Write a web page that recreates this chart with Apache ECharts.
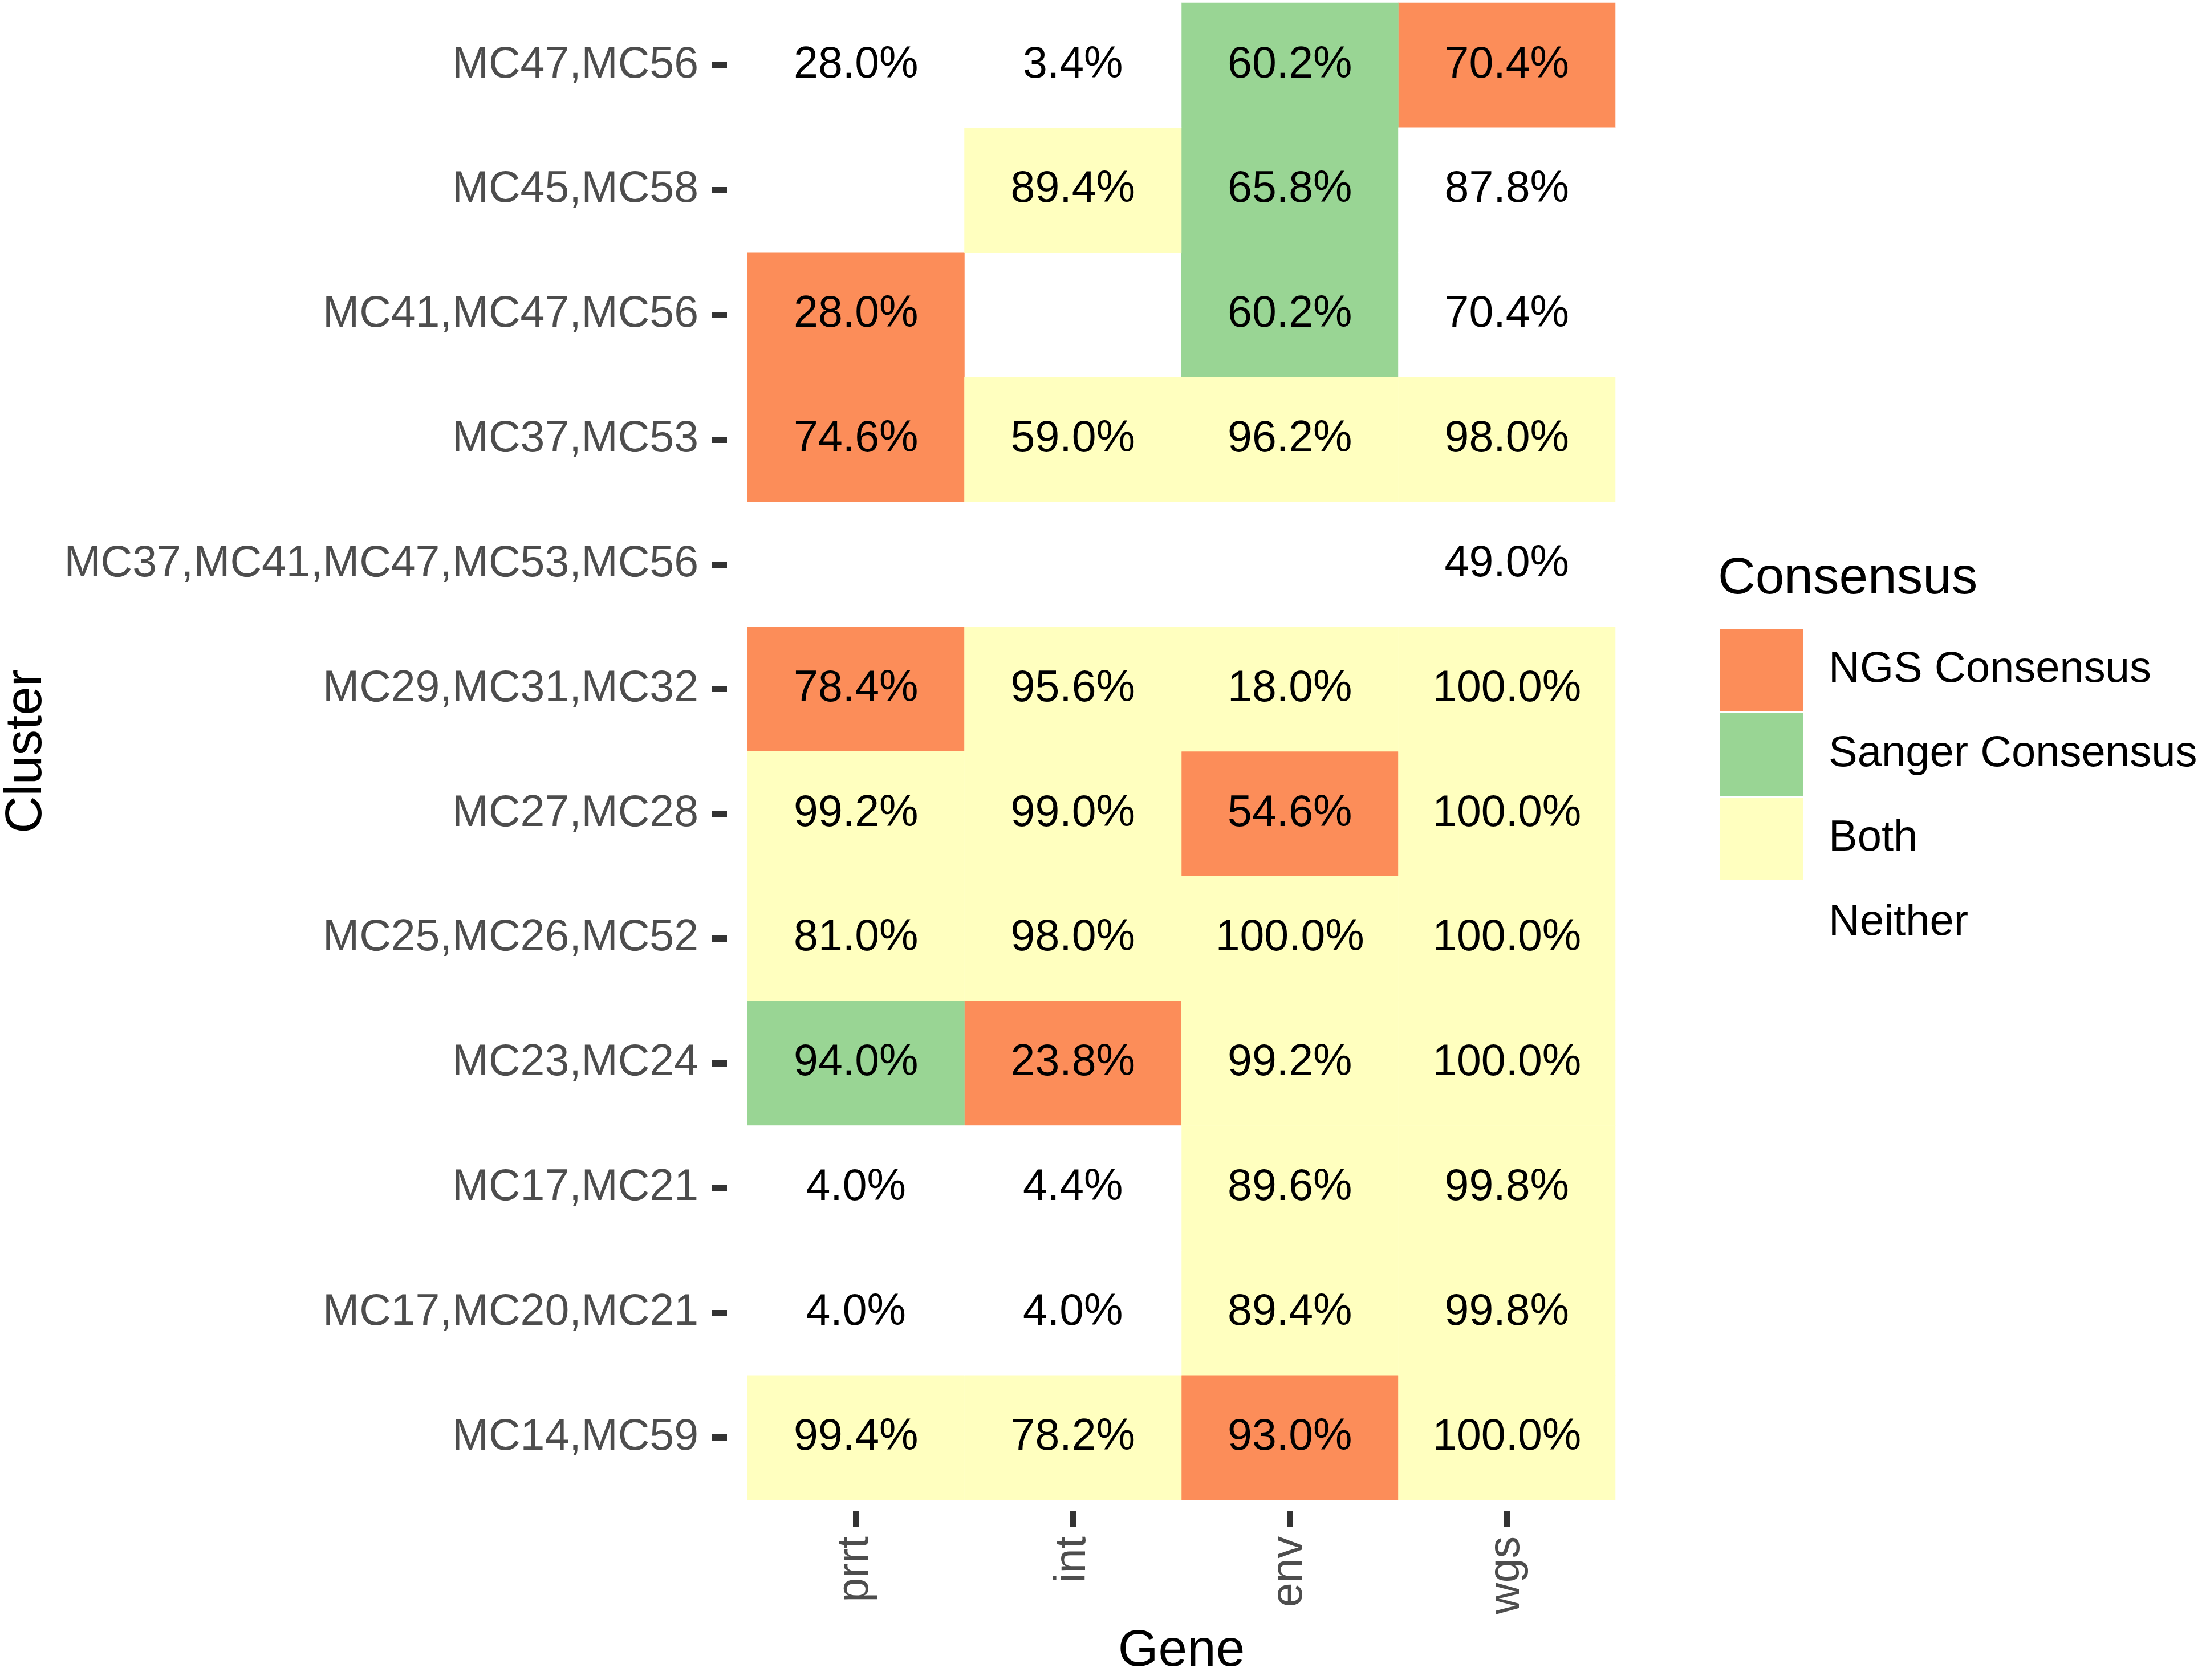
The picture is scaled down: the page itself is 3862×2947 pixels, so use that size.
<!DOCTYPE html>
<html>
<head>
<meta charset="utf-8">
<script src="https://cdn.jsdelivr.net/npm/echarts@6/dist/echarts.min.js"></script>
<style>html,body{margin:0;padding:0;background:#fff}#c{width:3862px;height:2947px}</style>
</head>
<body>
<div id="c"></div>
<script>
const genes = ['prrt', 'int', 'env', 'wgs'];
const clusters = [
  'MC47,MC56', 'MC45,MC58', 'MC41,MC47,MC56', 'MC37,MC53',
  'MC37,MC41,MC47,MC53,MC56', 'MC29,MC31,MC32', 'MC27,MC28', 'MC25,MC26,MC52',
  'MC23,MC24', 'MC17,MC21', 'MC17,MC20,MC21', 'MC14,MC59'
];
const values = [
  [28.0, 3.4, 60.2, 70.4],
  [null, 89.4, 65.8, 87.8],
  [28.0, null, 60.2, 70.4],
  [74.6, 59.0, 96.2, 98.0],
  [null, null, null, 49.0],
  [78.4, 95.6, 18.0, 100.0],
  [99.2, 99.0, 54.6, 100.0],
  [81.0, 98.0, 100.0, 100.0],
  [94.0, 23.8, 99.2, 100.0],
  [4.0, 4.4, 89.6, 99.8],
  [4.0, 4.0, 89.4, 99.8],
  [99.4, 78.2, 93.0, 100.0]
];
const consensus = [
  ['Neither', 'Neither', 'Sanger Consensus', 'NGS Consensus'],
  [null, 'Both', 'Sanger Consensus', 'Neither'],
  ['NGS Consensus', null, 'Sanger Consensus', 'Neither'],
  ['NGS Consensus', 'Both', 'Both', 'Both'],
  [null, null, null, 'Neither'],
  ['NGS Consensus', 'Both', 'Both', 'Both'],
  ['Both', 'Both', 'NGS Consensus', 'Both'],
  ['Both', 'Both', 'Both', 'Both'],
  ['Sanger Consensus', 'NGS Consensus', 'Both', 'Both'],
  ['Neither', 'Neither', 'Both', 'Both'],
  ['Neither', 'Neither', 'Both', 'Both'],
  ['Both', 'Both', 'NGS Consensus', 'Both']
];
const consensusLevels = ['NGS Consensus', 'Sanger Consensus', 'Both', 'Neither'];
const consensusColors = ['#FC8D59', '#99D594', '#FFFFBF', '#FFFFFF'];

const FONT = '"Liberation Sans", Arial, Helvetica, sans-serif';

const series = consensusLevels.map((lvl, k) => {
  const data = [];
  clusters.forEach((c, i) => {
    genes.forEach((g, j) => {
      if (values[i][j] !== null && consensus[i][j] === lvl) data.push([j, i, values[i][j]]);
    });
  });
  return {
    name: lvl,
    type: 'heatmap',
    data: data,
    itemStyle: { color: consensusColors[k], borderWidth: 0 },
    label: {
      show: true,
      color: '#000',
      fontSize: 77,
      fontFamily: FONT,
      formatter: p => p.value[2].toFixed(1) + '%'
    },
    emphasis: { disabled: true }
  };
});

const chart = echarts.init(document.getElementById('c'));
chart.setOption({
  animation: false,
  backgroundColor: '#fff',
  title: {
    text: 'Consensus',
    left: 3008,
    top: 965,
    textStyle: { fontSize: 91, fontWeight: 'normal', color: '#000', fontFamily: FONT }
  },
  legend: {
    orient: 'vertical',
    left: 3012,
    top: 1098,
    icon: 'rect',
    itemWidth: 145,
    itemHeight: 145,
    itemGap: 3,
    selectedMode: false,
    data: consensusLevels,
    textStyle: { fontSize: 76, color: '#000', fontFamily: FONT, padding: [0, 0, 0, 40] }
  },
  grid: { left: 1308, top: 5, width: 1525, height: 2642 },
  xAxis: {
    type: 'category',
    data: genes,
    offset: 20,
    name: 'Gene',
    nameLocation: 'middle',
    nameGap: 200,
    nameTextStyle: { fontSize: 91, color: '#000', fontFamily: FONT },
    axisLine: { show: false },
    axisTick: { show: true, alignWithLabel: true, length: 28, lineStyle: { color: '#333', width: 11 } },
    axisLabel: { rotate: 90, margin: 44, fontSize: 77, color: '#4D4D4D', fontFamily: FONT },
    splitLine: { show: false }
  },
  yAxis: {
    type: 'category',
    data: clusters,
    inverse: true,
    offset: 36,
    name: 'Cluster',
    nameLocation: 'middle',
    nameGap: 1183,
    nameRotate: 90,
    nameTextStyle: { fontSize: 91, color: '#000', fontFamily: FONT },
    axisLine: { show: false },
    axisTick: { show: true, alignWithLabel: true, length: 26, lineStyle: { color: '#333', width: 11 } },
    axisLabel: { margin: 50, fontSize: 77, color: '#4D4D4D', fontFamily: FONT },
    splitLine: { show: false }
  },
  series: series
});
</script>
</body>
</html>
